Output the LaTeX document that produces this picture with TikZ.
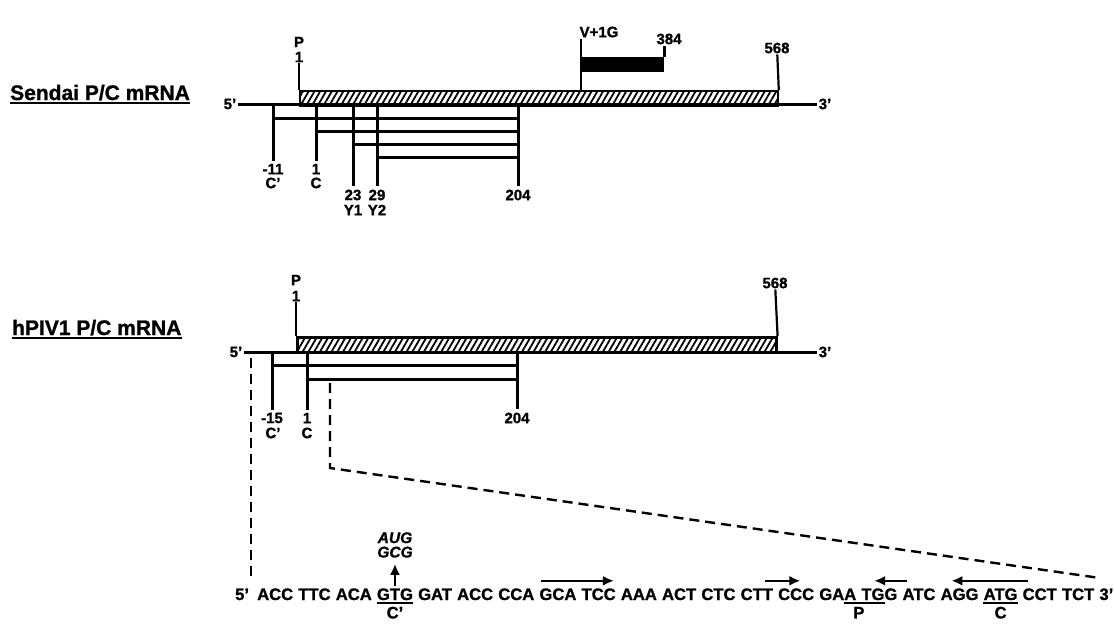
\documentclass[tikz,border=0pt]{standalone}
\usepackage{fontspec}
\setmainfont{Liberation Sans}[BoldFeatures={FakeBold=1.2}, BoldItalicFeatures={FakeBold=1.2}]
\usetikzlibrary{arrows.meta, positioning, calc, patterns.meta}

\begin{document}
\begin{tikzpicture}[
    x=1pt, y=-1pt,
    mtitle/.style={font=\fontsize{21}{21}\selectfont\bfseries, inner sep=0pt, anchor=base west},
    lbl/.style={font=\fontsize{15}{15}\selectfont\bfseries, inner sep=1pt},
    endlbl/.style={font=\fontsize{15}{15}\selectfont\bfseries, inner sep=1.5pt},
    rna/.style={line width=3pt},
    pbox/.style={draw, line width=2.6pt, inner sep=0pt, minimum height=15pt, anchor=north west,
        pattern={Lines[angle=60, distance=5pt, line width=1.8pt]}},
    orf/.style={line width=3pt},
    ptick/.style={line width=2.2pt},
    uline/.style={line width=1.8pt},
    zoomline/.style={line width=2.4pt, dash pattern=on 10pt off 6pt},
    seq/.style={font=\fontsize{16.6}{16.6}\selectfont\bfseries, inner sep=0pt, text height=12pt, text depth=0pt},
    altcodon/.style={font=\fontsize{15.5}{15.5}\selectfont\bfseries\itshape, inner sep=0pt},
    primer/.style={line width=2.4pt, -{Latex[length=11pt, width=10pt]}}
]
\useasboundingbox (0,0) rectangle (1114,626);

\node[mtitle] (sTitle) at (10,100) {Sendai P/C mRNA};
\draw[uline] ([yshift=-3pt]sTitle.base west) -- ([yshift=-3pt]sTitle.base east);
\node[endlbl] (s5) at (230,104) {5'};
\node[endlbl] (s3) at (825,104) {3'};
\draw[rna] (s5) -- (s3);
\node[pbox, minimum width=478pt] (sP) at (299,90) {};
\node[lbl] (sPp) at (299,42) {P};
\node[lbl] (sP1) at (299,57) {1};
\draw[ptick] (sP1) -- (sP.north west);
\node[lbl] (s568) at (777,48) {568};
\draw[ptick] (s568) -- (sP.north east);
\node[fill, inner sep=0pt, minimum width=83pt, minimum height=15pt, anchor=north west] (sV) at (581,57) {};
\node[lbl] (sVl) at (599,32) {V+1G};
\node[lbl] (s384) at (669,39) {384};
\draw[ptick] (sV.north west |- sVl.south) -- (sV.north west |- sP.north);
\draw[ptick] (sV.north east |- s384.south) -- (sV.north east);

\node[lbl] (sCpn) at (273,169) {-11};
\node[lbl] (sCpl) at (273,183) {C'};
\node[lbl] (sCn) at (316,169) {1};
\node[lbl] (sCl) at (316,183) {C};
\node[lbl] (sY1n) at (353,195) {23};
\node[lbl] (sY1l) at (353,210) {Y1};
\node[lbl] (sY2n) at (377,195) {29};
\node[lbl] (sY2l) at (377,210) {Y2};
\node[lbl] (s204) at (518,195) {204};
\foreach \o/\y in {sCpn/118, sCn/131, sY1n/144, sY2n/157}
    \draw[orf] (\o |- s5) -- ([yshift=2pt]\o.north) (\o |- 0,\y) -- (s204 |- 0,\y);
\draw[orf] (s204 |- s5) -- ([yshift=2pt]s204.north);

\node[mtitle] (hTitle) at (12,335) {hPIV1 P/C mRNA};
\draw[uline] ([yshift=-3pt]hTitle.base west) -- ([yshift=-3pt]hTitle.base east);
\node[endlbl] (h5) at (236,352) {5'};
\node[endlbl] (h3) at (825,352) {3'};
\draw[rna] (h5) -- (h3);
\node[pbox, minimum width=479pt] (hP) at (296,336) {};
\node[lbl] (hPp) at (296,280) {P};
\node[lbl] (hP1) at (296,296) {1};
\draw[ptick] (hP1) -- (hP.north west);
\node[lbl] (h568) at (775,283) {568};
\draw[ptick] (h568) -- (hP.north east);

\node[lbl] (hCpn) at (272,418) {-15};
\node[lbl] (hCpl) at (273,433) {C'};
\node[lbl] (hCn) at (307,418) {1};
\node[lbl] (hCl) at (307,433) {C};
\node[lbl] (h204) at (517,418) {204};
\foreach \o/\y in {hCpn/365, hCn/379}
    \draw[orf] (\o |- h5) -- ([yshift=2pt]\o.north) (\o |- 0,\y) -- (h204 |- 0,\y);
\draw[orf] (h204 |- h5) -- ([yshift=2pt]h204.north);

\node[seq, anchor=base west] (q0) at (235,600) {5'};
\node[seq, anchor=base west] (q1) at (257,600) {ACC};
\foreach \c [count=\i from 2, remember=\i as \j (initially 1)] in
    {TTC,ACA,GTG,GAT,ACC,CCA,GCA,TCC,AAA,ACT,CTC,CTT,CCC,GAA,TGG,ATC,AGG,ATG,CCT,TCT,3'}
    \node[seq, base right=4.8pt of q\j] (q\i) {\c};

\draw[uline] ([yshift=-3pt]q4.base west) -- ([yshift=-3pt]q4.base east);
\draw[uline] ([xshift=-12pt, yshift=-3pt]q15.base east) -- ([xshift=-13pt, yshift=-3pt]q16.base east);
\draw[uline] ([yshift=-3pt]q19.base west) -- ([yshift=-3pt]q19.base east);
\node[seq, below=6pt of q4] (cCp) {C'};
\node[seq, anchor=north] (cP) at ([yshift=-6pt]$(q15.south east)!0.5!(q16.south west)$) {P};
\node[seq, below=6pt of q19] (cC) {C};

\node[altcodon, above=30pt of q4] (gcg) {GCG};
\node[altcodon, above=3pt of gcg] (aug) {AUG};
\draw[primer, shorten <=2pt, shorten >=6pt] (q4.north) -- (gcg.south);

\draw[primer] ([xshift=2pt, yshift=7pt]q8.north west) -- ([xshift=-2pt, yshift=7pt]q9.north east);
\draw[primer] ([xshift=-8pt, yshift=7pt]q13.north east) -- ([xshift=-14pt, yshift=7pt]q14.north east);
\draw[primer] ([xshift=5pt, yshift=7pt]q17.north west) -- ([xshift=13pt, yshift=7pt]q16.north west);
\draw[primer] ([xshift=6pt, yshift=7pt]q20.north west) -- ([xshift=11pt, yshift=7pt]q18.north west);

\coordinate (hL) at (251,358);
\coordinate (hLb) at (251,582);
\coordinate (hR) at (330,383);
\coordinate (hK) at (330,468);
\coordinate (hE) at (1100,578);
\draw[zoomline] (hL) -- (hLb);
\draw[zoomline] (hR) -- (hK) -- (hE);
\end{tikzpicture}
\end{document}
